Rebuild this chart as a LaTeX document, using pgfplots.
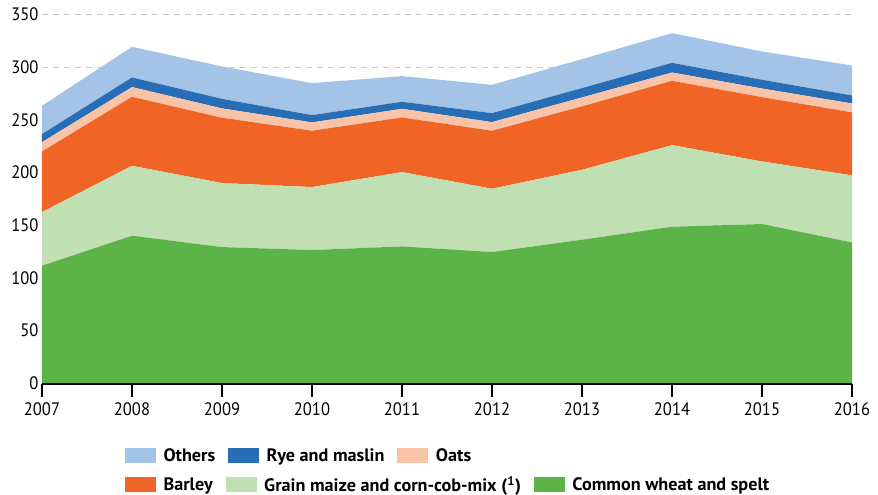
\documentclass[border=0pt]{standalone}
\usepackage{fontspec}
\setmainfont{PT Sans}[FakeStretch=0.92]
\newfontfamily\legendfont{PT Sans}[FakeStretch=1.01]
\usepackage{pgfplots}
\usepackage{pgfplotstable}
\pgfplotsset{compat=1.18}
\definecolor{cOthers}{HTML}{A3C4E6}
\definecolor{cRye}{HTML}{286EB6}
\definecolor{cOats}{HTML}{F9C3A8}
\definecolor{cBarley}{HTML}{F06526}
\definecolor{cMaize}{HTML}{C0DFB2}
\definecolor{cWheat}{HTML}{5CB448}

\pgfplotstableread{
year wheat maize barley oats rye others
2007 111.4 50.9 57.6 8.9 7.6 26.9
2008 139.9 66.4 65.5 9.2 9.2 29.1
2009 129.1 60.8 62.0 8.9 9.1 30.7
2010 126.3 59.8 53.5 7.9 6.9 30.4
2011 129.7 70.6 51.9 8.2 6.7 24.4
2012 124.4 60.1 55.1 8.2 8.5 26.9
2013 136.1 66.4 60.2 8.5 8.9 27.5
2014 148.4 77.5 61.1 7.9 9.2 28.2
2015 151.0 59.4 61.1 8.2 8.3 26.9
2016 133.5 63.7 59.8 8.5 7.6 28.5
}\datatable

\pgfplotsset{
  mylegend/.style={
    legend style={draw=none, fill=none, inner sep=0pt, outer sep=0pt,
      font=\legendfont\bfseries\fontsize{18}{20}\selectfont,
      nodes={inner sep=0pt},
      anchor=west, column sep=7.5pt,
      /tikz/every even column/.append style={column sep=13pt}},
    legend cell align=left,
    legend columns=3,
    legend image code/.code={\fill[##1] (0pt,-7.5pt) rectangle (31pt,7.5pt);},
  },
}

\begin{document}
\begin{tikzpicture}
\path[use as bounding box] (0,0) rectangle (878pt,495pt);
\begin{axis}[
  at={(42pt,112pt)}, anchor=south west,
  scale only axis, width=810pt, height=368.5pt,
  xmin=2007, xmax=2016, ymin=0, ymax=350,
  xtick={2007,2008,...,2016},
  ytick={0,50,...,350},
  axis x line*=bottom,
  axis y line*=left,
  x axis line style={-, line width=1.8pt, black, yshift=-0.9pt},
  y axis line style={draw=none},
  xtick align=outside,
  xtick style={line width=1.8pt, black, yshift=-0.9pt},
  ytick style={draw=none},
  major tick length=13pt,
  ymajorgrids,
  major grid style={line width=1pt, color=black!22, dash pattern=on 6pt off 5pt},
  tick label style={font=\fontsize{18}{20}\selectfont},
  x tick label style={/pgf/number format/1000 sep={}, yshift=-3pt},
  /pgf/number format/assume math mode=true,
  stack plots=y,
  area style,
  axis on top=false,
  mylegend,
  reverse legend,
  legend style={at={(0.1025,-0.1973)}},
]
\addplot[fill=cWheat, draw=none, forget plot] table[x=year, y=wheat] {\datatable} \closedcycle;
\addplot[fill=cMaize, draw=none, forget plot] table[x=year, y=maize] {\datatable} \closedcycle;
\addplot[fill=cBarley, draw=none, forget plot] table[x=year, y=barley] {\datatable} \closedcycle;
\addplot[fill=cOats, draw=none] table[x=year, y=oats] {\datatable} \closedcycle;
\addlegendentry{Oats}
\addplot[fill=cRye, draw=none] table[x=year, y=rye] {\datatable} \closedcycle;
\addlegendentry{Rye and maslin}
\addplot[fill=cOthers, draw=none] table[x=year, y=others] {\datatable} \closedcycle;
\addlegendentry{Others}
\end{axis}
\begin{axis}[
  at={(42pt,112pt)}, anchor=south west,
  scale only axis, width=810pt, height=368.5pt,
  hide axis, xmin=0, xmax=1, ymin=0, ymax=1,
  mylegend,
  legend style={at={(0.1025,-0.2760)}},
]
\addplot[draw=none, forget plot] coordinates {(0,0) (1,1)};
\addlegendimage{fill=cBarley, draw=none}
\addlegendentry{Barley}
\addlegendimage{fill=cMaize, draw=none}
\addlegendentry{Grain maize and corn-cob-mix (\textsuperscript{1})}
\addlegendimage{fill=cWheat, draw=none}
\addlegendentry{Common wheat and spelt}
\end{axis}
\end{tikzpicture}
\end{document}
